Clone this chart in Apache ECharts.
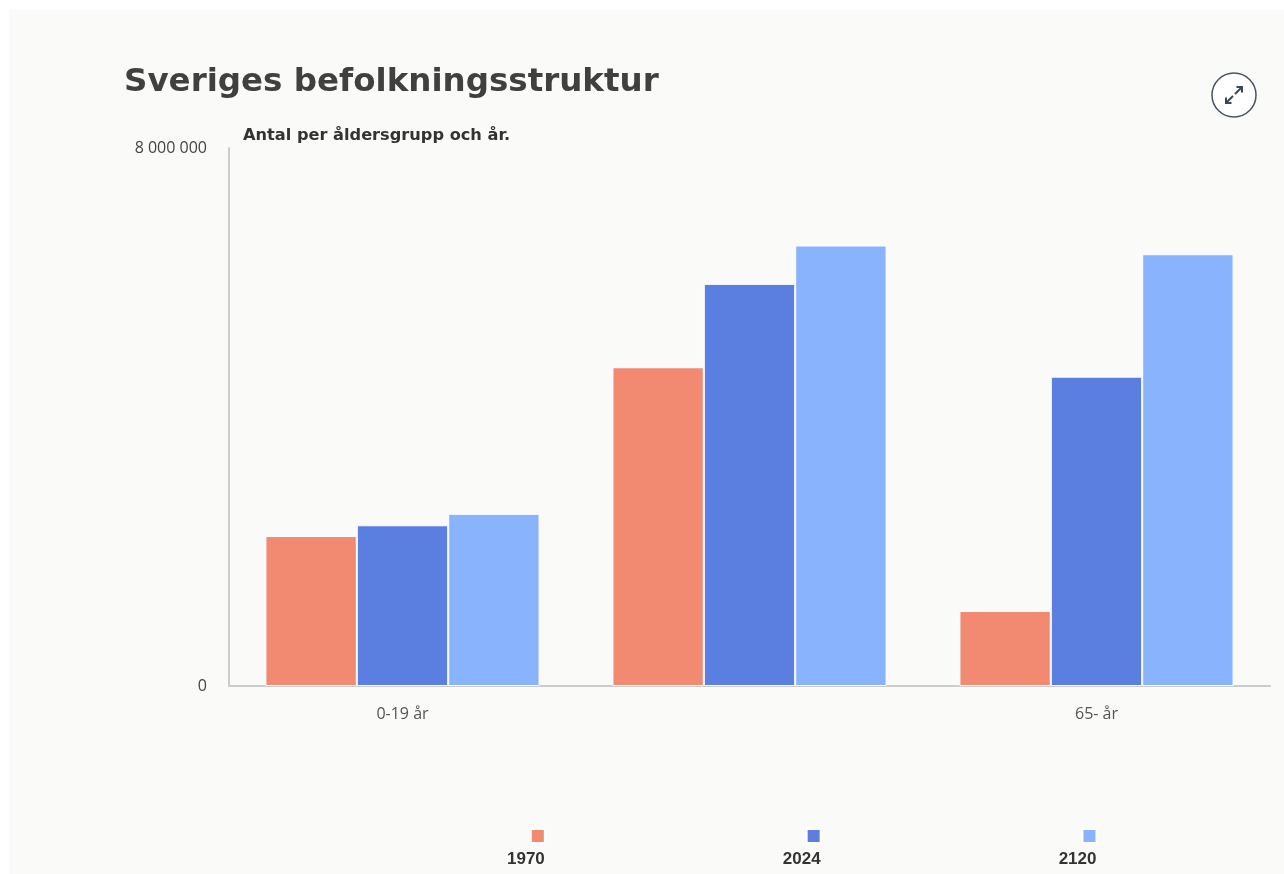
<!DOCTYPE html>
<html>
<head>
<meta charset="utf-8">
<title>Sveriges befolkningsstruktur</title>
<script src="https://cdn.jsdelivr.net/npm/echarts@6/dist/echarts.min.js"></script>
<style>
  html, body { margin: 0; padding: 0; background: #ffffff; }
  #chart { width: 1284px; height: 874px; }
</style>
</head>
<body>
<div id="chart"></div>
<script>
// åldersgrupper (mittersta etiketten visas inte i originalet)
var ageGroups = ['0-19 år', '20-64 år', '65- år'];
var years = ['1970', '2024', '2120'];

// antal personer per åldersgrupp
var values1970 = [2230000, 4740000, 1115000];
var values2024 = [2390000, 5980000, 4600000];
var values2120 = [2560000, 6550000, 6420000];

var yTicks = [0, 8000000];

var colors = ['#f28a72', '#5b7ee1', '#8ab3fe'];

var chart = echarts.init(document.getElementById('chart'), null, { renderer: 'canvas' });

function fmtNumber(v) {
    // svenskt tusentalsavgränsat format
    return String(v).replace(/\B(?=(\d{3})+(?!\d))/g, ' ');
}

var seriesValues = [values1970, values2024, values2120];

var option = {
    backgroundColor: '#ffffff',
    animation: false,
    color: colors,
    title: [{
        text: 'Sveriges befolkningsstruktur',
        left: 124,
        top: 66,
        padding: 0,
        textStyle: {
            fontFamily: 'DejaVu Sans',
            fontSize: 32.5,
            fontWeight: 'bold',
            color: '#404040'
        }
    }, {
        text: 'Antal per åldersgrupp och år.',
        left: 243,
        top: 128,
        padding: 0,
        textStyle: {
            fontFamily: 'DejaVu Sans',
            fontSize: 16.2,
            fontWeight: 'bold',
            color: '#333333'
        }
    }],
    legend: {
        data: years,
        left: 507,
        top: 790,
        padding: 0,
        align: 'right',
        icon: 'rect',
        itemWidth: 14,
        itemHeight: 14,
        itemGap: 237,
        selectedMode: false,
        // texten under symbolen: tom första rad
        formatter: function (name) { return '\n' + name; },
        textStyle: {
            fontFamily: 'Liberation Sans',
            fontSize: 17,
            lineHeight: 46,
            fontWeight: 'bold',
            color: '#333333',
            padding: [0, -19, 0, 0]
        }
    },
    grid: {
        left: 229,
        right: 14,
        top: 148,
        bottom: 188,
        containLabel: false
    },
    xAxis: {
        type: 'category',
        data: ageGroups,
        axisLine: { lineStyle: { color: '#cccccc', width: 2 } },
        axisTick: { show: false },
        axisLabel: {
            interval: function (index) { return index !== 1; },
            margin: 20,
            fontFamily: 'Open Sans',
            fontSize: 16,
            color: '#555555'
        }
    },
    yAxis: {
        type: 'value',
        min: yTicks[0],
        max: yTicks[1],
        interval: yTicks[1] - yTicks[0],
        axisLine: { show: true, lineStyle: { color: '#cccccc', width: 2 } },
        axisTick: { show: false },
        splitLine: { show: false },
        axisLabel: {
            margin: 22,
            fontFamily: 'Open Sans',
            fontSize: 16,
            color: '#444444',
            formatter: function (v) { return fmtNumber(v); }
        }
    },
    series: years.map(function (y, i) {
        return {
            name: y,
            type: 'bar',
            data: seriesValues[i],
            barGap: '0%',
            barCategoryGap: '21%',
            itemStyle: {
                color: colors[i],
                borderColor: '#ffffff',
                borderWidth: 1
            }
        };
    }),
    graphic: [
        // ljus panelbakgrund
        {
            type: 'rect',
            z: -10,
            silent: true,
            shape: { x: 9, y: 10, width: 1275, height: 864 },
            style: { fill: '#fafaf8' }
        },
        // expandera-knapp
        {
            type: 'group',
            silent: true,
            children: [{
                type: 'circle',
                shape: { cx: 1234, cy: 95, r: 22 },
                style: { fill: '#ffffff', stroke: '#4a5362', lineWidth: 1.5 }
            }, {
                type: 'polyline',
                shape: { points: [[1235, 94], [1242, 87]] },
                style: { stroke: '#3d4654', lineWidth: 2, fill: null }
            }, {
                type: 'polyline',
                shape: { points: [[1236.5, 87], [1242, 87], [1242, 92.5]] },
                style: { stroke: '#3d4654', lineWidth: 2, fill: null }
            }, {
                type: 'polyline',
                shape: { points: [[1233, 96], [1226, 103]] },
                style: { stroke: '#3d4654', lineWidth: 2, fill: null }
            }, {
                type: 'polyline',
                shape: { points: [[1226, 97.5], [1226, 103], [1231.5, 103]] },
                style: { stroke: '#3d4654', lineWidth: 2, fill: null }
            }]
        }
    ]
};

chart.setOption(option);
</script>
</body>
</html>
